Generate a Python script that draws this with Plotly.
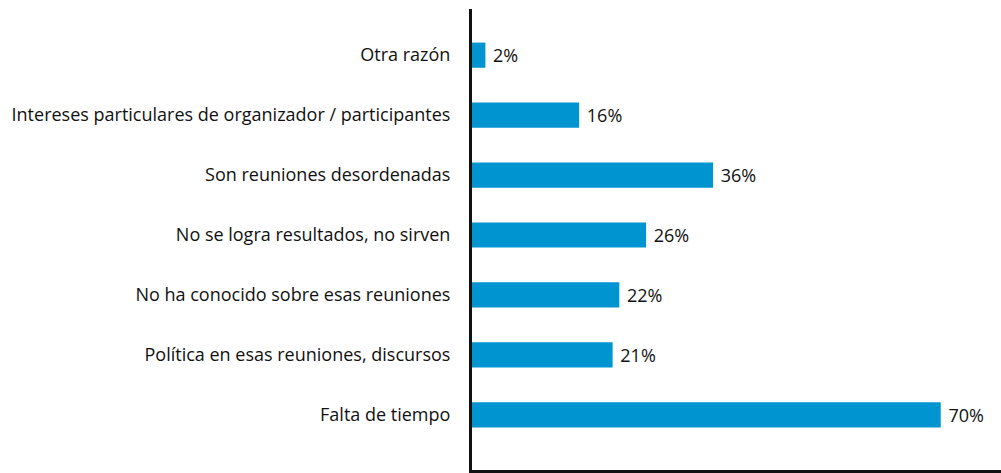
import plotly.graph_objects as go

categories = [
    "Falta de tiempo",
    "Política en esas reuniones, discursos",
    "No ha conocido sobre esas reuniones",
    "No se logra resultados, no sirven",
    "Son reuniones desordenadas",
    "Intereses particulares de organizador / participantes",
    "Otra razón",
]
values = [70, 21, 22, 26, 36, 16, 2]
labels = [f" {v}%" for v in values]

fig = go.Figure(go.Bar(
    y=categories,
    x=values,
    orientation="h",
    marker=dict(color="#0095D0", line=dict(width=0)),
    width=0.42,
    text=labels,
    textposition="outside",
    textfont=dict(family="Open Sans", size=18, color="#111111"),
    cliponaxis=False,
))

fig.update_layout(
    width=1001,
    height=473,
    margin=dict(l=472, r=0, t=9, b=3),
    paper_bgcolor="white",
    plot_bgcolor="white",
    showlegend=False,
    font=dict(family="Open Sans", size=18, color="#111111"),
    xaxis=dict(
        range=[0, 79],
        showticklabels=False,
        showgrid=False,
        zeroline=False,
        showline=True,
        linecolor="#111111",
        linewidth=3,
        ticks="",
    ),
    yaxis=dict(
        range=[-0.92, 6.77],
        showgrid=False,
        zeroline=False,
        showline=True,
        linecolor="#111111",
        linewidth=3,
        ticks="outside",
        ticklen=15,
        tickcolor="rgba(0,0,0,0)",
        tickfont=dict(family="Open Sans", size=18, color="#111111"),
    ),
)

fig.write_html(
    "out.html",
    config={"displayModeBar": False},
    post_script="document.body.style.margin='0';",
)
